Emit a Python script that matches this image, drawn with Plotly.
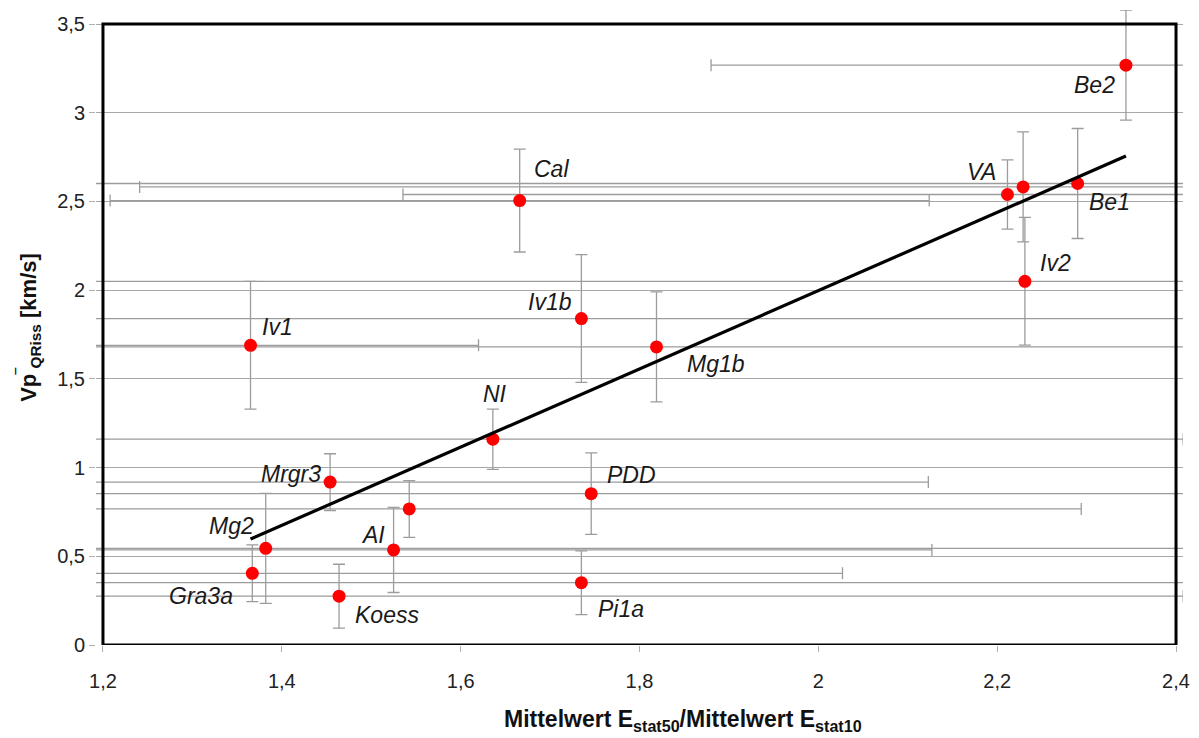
import numpy as np
import plotly.graph_objects as go

# ---- data ----
names = ["Be2", "Cal", "VA", "", "Be1", "Iv2", "Iv1b", "Mg1b", "Iv1", "NI",
         "Mrgr3", "PDD", "", "AI", "Mg2", "Gra3a", "Koess", "Pi1a"]
ratio = [2.344, 1.666, 2.2115, 2.229, 2.290, 2.231, 1.735, 1.819, 1.365, 1.636,
         1.454, 1.746, 1.5425, 1.525, 1.382, 1.367, 1.464, 1.735]
vp = [3.268, 2.505, 2.539, 2.582, 2.601, 2.050, 1.840, 1.680, 1.689, 1.160,
      0.918, 0.853, 0.767, 0.536, 0.545, 0.404, 0.275, 0.351]
vp_err = [0.31, 0.29, 0.195, 0.31, 0.31, 0.36, 0.36, 0.31, 0.36, 0.17,
          0.16, 0.23, 0.16, 0.24, 0.31, 0.16, 0.18, 0.18]
ratio_err = [0.464, 0.458, 0.676, 0.988, 1.15, 1.10, 0.75, 0.70, 0.255, 0.772,
             0.669, 0.70, 0.7515, 0.602, 1.05, 0.66, 0.944, 0.70]

x_ticks = [1.2, 1.4, 1.6, 1.8, 2.0, 2.2, 2.4]
y_ticks = [0, 0.5, 1, 1.5, 2, 2.5, 3, 3.5]

x_title = "<b>Mittelwert E<sub>stat50</sub>/Mittelwert E<sub>stat10</sub></b>"
y_title = "<b>Vp<sup>‾</sup><sub>QRiss</sub> [km/s]</b>"

# ---- styling: label offsets in pixels (dx right, dy down) ----
label_offsets = [(-31, 20), (32, -32), (-26, -23), (0, 0), (32, 18), (31, -18),
                 (-31, -17), (60, 17), (27, -18), (2, -45), (-39, -8), (40, -19),
                 (0, 0), (-21, -15), (-34, -22), (-51, 23), (48, 19), (40, 26)]

FONT = "Liberation Sans, Arial, sans-serif"
GREY = "#9c9c9c"

# axis frame is at the tick ends; the drawing area overhangs it a little
x_lo, x_hi = x_ticks[0], x_ticks[-1]
y_lo, y_hi = y_ticks[0], y_ticks[-1]
x_pad_l, x_pad_r, y_pad_t = 0.0078, 0.0078, 0.079

fig = go.Figure()

# horizontal error bars (clipped to drawing area)
fig.add_trace(go.Scatter(
    x=ratio, y=vp, mode="markers",
    marker=dict(size=1, color="rgba(0,0,0,0)"),
    error_x=dict(type="data", array=ratio_err, symmetric=True,
                 color=GREY, thickness=1.3, width=6),
    showlegend=False, hoverinfo="skip"))

# vertical error bars + points
fig.add_trace(go.Scatter(
    x=ratio, y=vp, mode="markers",
    marker=dict(size=13, color="#ff0000", line=dict(width=0)),
    error_y=dict(type="data", array=vp_err, symmetric=True,
                 color=GREY, thickness=1.3, width=6),
    cliponaxis=False, showlegend=False))

# linear trend line (least squares fit of the points)
slope, intercept = np.polyfit(ratio, vp, 1)
xt = [min(ratio), max(ratio)]
fig.add_trace(go.Scatter(
    x=xt, y=[slope * v + intercept for v in xt], mode="lines",
    line=dict(color="black", width=3.2), showlegend=False, hoverinfo="skip"))

for n, xv, yv, (dx, dy) in zip(names, ratio, vp, label_offsets):
    if not n:
        continue
    fig.add_annotation(x=xv, y=yv, text=n, showarrow=False,
                       xshift=dx, yshift=-dy, xanchor="center", yanchor="middle",
                       font=dict(family=FONT, size=23, color="#1a1a1a", style="italic"))

# x axis title (placed like the reference, slightly right of centre)
fig.add_annotation(xref="paper", yref="paper", x=0.54, y=0, yshift=-75,
                   xanchor="center", yanchor="middle", showarrow=False,
                   text=x_title, font=dict(family=FONT, size=23, color="#111"))

# black frame of the plot area
fig.add_shape(type="rect", xref="x", yref="y", x0=x_lo, x1=x_hi, y0=y_lo, y1=y_hi,
              line=dict(color="black", width=3), fillcolor="rgba(0,0,0,0)", layer="above")

fig.update_layout(
    width=1191, height=730,
    margin=dict(l=88, r=16, t=2, b=93),
    paper_bgcolor="white", plot_bgcolor="white",
    separators=", ",
    font=dict(family=FONT, color="#222"),
)

fig.update_xaxes(
    range=[x_lo - x_pad_l, x_hi + x_pad_r], tickvals=x_ticks,
    showgrid=False, zeroline=False, showline=False, automargin=False,
    ticks="outside", ticklen=6, tickcolor="#b0b0b0", tickwidth=1,
    tickfont=dict(family=FONT, size=20, color="#222"),
    ticklabelstandoff=12,
)
fig.update_yaxes(
    range=[y_lo, y_hi + y_pad_t], tickvals=y_ticks,
    showgrid=True, gridcolor="#a8a8a8", gridwidth=1.2, zeroline=False,
    showline=False, automargin=False,
    ticks="outside", ticklen=6, tickcolor="#b0b0b0", tickwidth=1,
    tickfont=dict(family=FONT, size=20, color="#222"),
    ticklabelstandoff=0,
    title=dict(text=y_title, font=dict(family=FONT, size=22, color="#111"), standoff=14),
)

fig.write_html("out.html")
